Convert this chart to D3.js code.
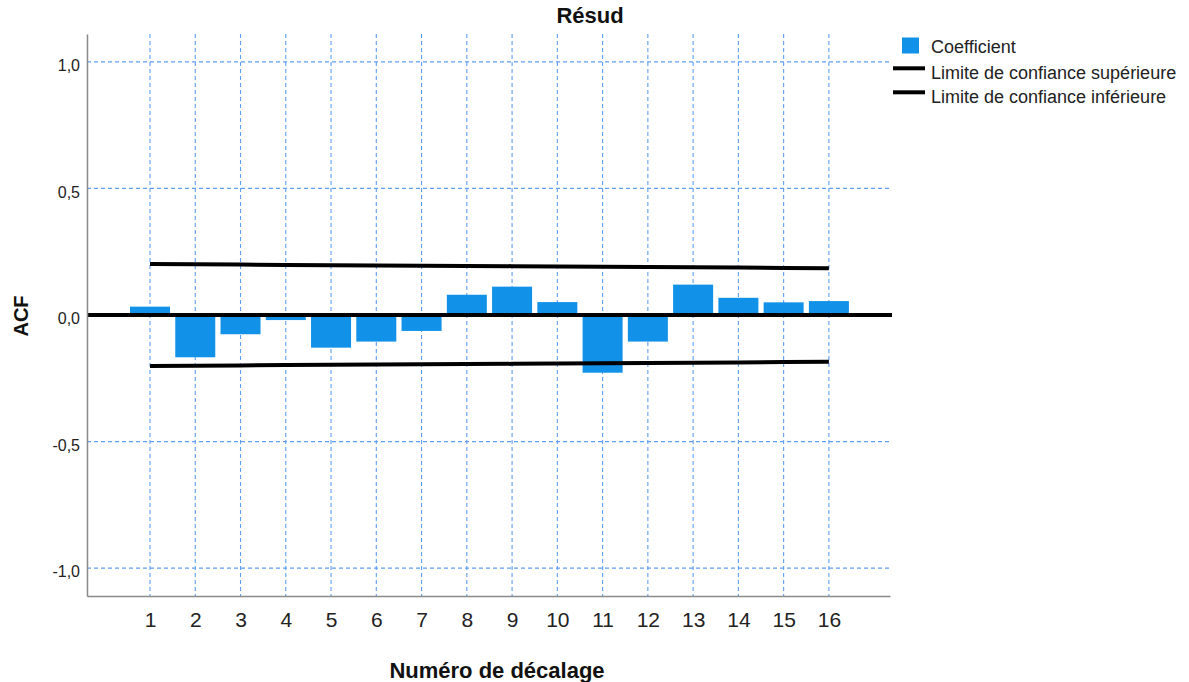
<!DOCTYPE html>
<html>
<head>
<meta charset="utf-8">
<script src="https://cdn.jsdelivr.net/npm/d3@7"></script>
<style>
  html, body { margin: 0; padding: 0; background: #fff; }
  svg { display: block; font-family: Arial, "Liberation Sans", sans-serif; }
</style>
</head>
<body>
<svg id="chart" width="1189" height="682"></svg>
<script>
// Autocorrelation of the residuals, by lag
const lags = [1, 2, 3, 4, 5, 6, 7, 8, 9, 10, 11, 12, 13, 14, 15, 16];
const coefficient = [0.033, -0.167, -0.076, -0.020, -0.129, -0.105, -0.063, 0.080,
                     0.112, 0.051, -0.228, -0.105, 0.120, 0.068, 0.050, 0.055];
const upperLimit = [0.201, 0.200, 0.199, 0.198, 0.197, 0.196, 0.195, 0.194,
                    0.193, 0.192, 0.191, 0.190, 0.189, 0.188, 0.186, 0.185];
const lowerLimit = [-0.201, -0.200, -0.199, -0.198, -0.197, -0.196, -0.195, -0.194,
                    -0.193, -0.192, -0.191, -0.190, -0.189, -0.188, -0.186, -0.185];
const yTicks = [-1.0, -0.5, 0.0, 0.5, 1.0];
const legendLabels = ["Coefficient", "Limite de confiance supérieure", "Limite de confiance inférieure"];

const svg = d3.select("#chart");
const plot = { left: 87, right: 890, top: 34, bottom: 596 };

const x = d3.scaleLinear().domain([-0.392, 17.35]).range([plot.left, plot.right]);
const y = d3.scaleLinear().domain([-1.11, 1.11]).range([plot.bottom, plot.top]);

const gridColor = "#5f9ef0";
const barColor = "#1192e8";
const fmt = v => d3.format(".1f")(v).replace(".", ",").replace("\u2212", "-");

// Dashed grid
const grid = svg.append("g");
grid.selectAll("line.v").data(lags).join("line")
  .attr("class", "v")
  .attr("x1", d => x(d)).attr("x2", d => x(d))
  .attr("y1", plot.top).attr("y2", plot.bottom)
  .attr("stroke", gridColor).attr("stroke-width", 1.1)
  .attr("stroke-dasharray", "4,3");
grid.selectAll("line.h").data(yTicks.filter(v => v !== 0)).join("line")
  .attr("class", "h")
  .attr("x1", plot.left).attr("x2", plot.right)
  .attr("y1", d => y(d)).attr("y2", d => y(d))
  .attr("stroke", gridColor).attr("stroke-width", 1.1)
  .attr("stroke-dasharray", "4,3");

// Coefficient bars
const barW = (x(1) - x(0)) * 0.884;
svg.append("g").selectAll("rect").data(lags).join("rect")
  .attr("x", (d) => x(d) - barW / 2)
  .attr("width", barW)
  .attr("y", (d, i) => y(Math.max(0, coefficient[i])))
  .attr("height", (d, i) => Math.abs(y(coefficient[i]) - y(0)))
  .attr("fill", barColor);

// Zero reference line
svg.append("line")
  .attr("x1", plot.left).attr("x2", plot.right + 2)
  .attr("y1", y(0)).attr("y2", y(0))
  .attr("stroke", "#000").attr("stroke-width", 4);

// Confidence limits
const limitLine = arr => d3.line().x((d) => x(d)).y((d, i) => y(arr[i]));
svg.append("path").datum(lags).attr("d", limitLine(upperLimit))
  .attr("fill", "none").attr("stroke", "#000").attr("stroke-width", 4);
svg.append("path").datum(lags).attr("d", limitLine(lowerLimit))
  .attr("fill", "none").attr("stroke", "#000").attr("stroke-width", 4);

// Axes
const yAxis = svg.append("g")
  .attr("transform", `translate(${plot.left},0)`)
  .call(d3.axisLeft(y).tickValues(yTicks).tickFormat(fmt).tickSize(0).tickSizeOuter(0).tickPadding(7));
yAxis.select(".domain").attr("stroke", "#8a8a8a").attr("stroke-width", 1.5);
yAxis.selectAll("text").attr("font-size", 16).attr("fill", "#222").attr("dy", "0.55em");

const xAxis = svg.append("g")
  .attr("transform", `translate(0,${plot.bottom})`)
  .call(d3.axisBottom(x).tickValues(lags).tickFormat(d3.format("d")).tickSize(0).tickSizeOuter(0).tickPadding(16));
xAxis.select(".domain").attr("stroke", "#8a8a8a").attr("stroke-width", 1.5);
xAxis.selectAll("text").attr("font-size", 21).attr("fill", "#222")
  .attr("y", 31).attr("dy", 0);

// Titles
svg.append("text").attr("x", 590).attr("y", 23)
  .attr("text-anchor", "middle").attr("font-size", 22).attr("font-weight", "bold")
  .attr("fill", "#111").text("Résud");
svg.append("text").attr("x", 497).attr("y", 678)
  .attr("text-anchor", "middle").attr("font-size", 22).attr("font-weight", "bold")
  .attr("fill", "#111").text("Numéro de décalage");
svg.append("text")
  .attr("transform", `translate(28,316) rotate(-90)`)
  .attr("text-anchor", "middle").attr("font-size", 20).attr("font-weight", "bold")
  .attr("fill", "#111").text("ACF");

// Legend
const legend = svg.append("g");
legend.append("rect").attr("x", 902).attr("y", 37.5).attr("width", 17).attr("height", 16)
  .attr("fill", barColor);
[68.3, 92.3].forEach(ly => {
  legend.append("line").attr("x1", 893).attr("x2", 925).attr("y1", ly).attr("y2", ly)
    .attr("stroke", "#000").attr("stroke-width", 4);
});
legend.selectAll("text").data(legendLabels).join("text")
  .attr("x", 931)
  .attr("y", (d, i) => [53, 79, 103][i])
  .attr("font-size", 18).attr("fill", "#222")
  .text(d => d);
</script>
</body>
</html>
